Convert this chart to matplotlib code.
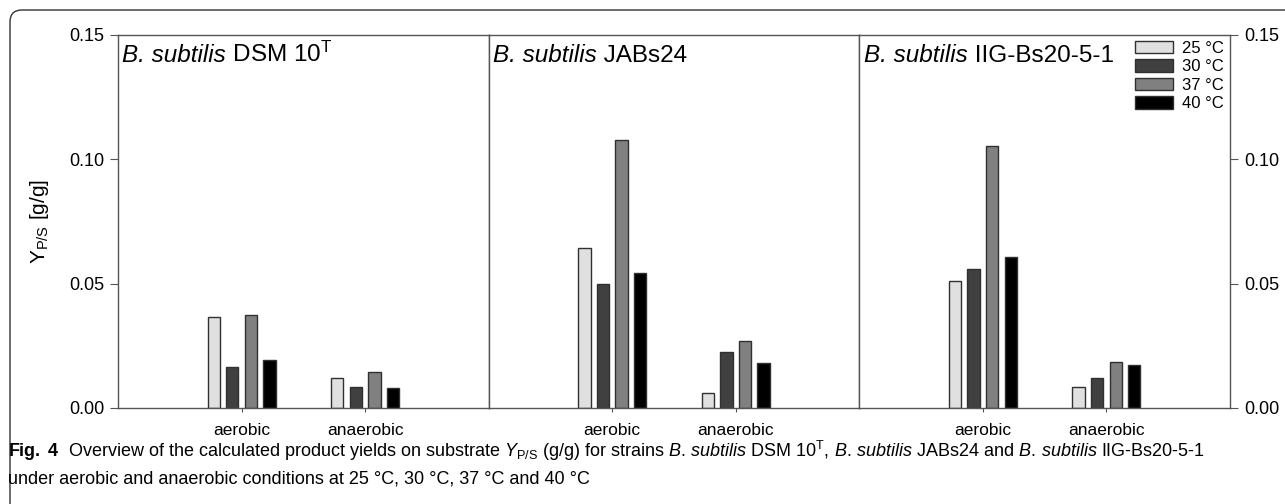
import numpy as np
import matplotlib
matplotlib.use("Agg")
import matplotlib.pyplot as plt
from matplotlib.patches import FancyBboxPatch
from matplotlib.transforms import IdentityTransform

plt.rcParams['font.family'] = ['Liberation Sans', 'DejaVu Sans']
plt.rcParams['mathtext.fontset'] = 'custom'
plt.rcParams['mathtext.rm'] = 'Liberation Sans'
plt.rcParams['mathtext.it'] = 'Liberation Sans:italic'
plt.rcParams['mathtext.bf'] = 'Liberation Sans:bold'

# data
conditions = ['aerobic', 'anaerobic']
temps = ['25 °C', '30 °C', '37 °C', '40 °C']
strains = ['DSM 10', 'JABs24', 'IIG-Bs20-5-1']
dsm10 = [[0.0365, 0.0165, 0.0372, 0.0192],
         [0.0120, 0.0083, 0.0145, 0.0080]]
jabs24 = [[0.0645, 0.0497, 0.1078, 0.0543],
          [0.0060, 0.0225, 0.0270, 0.0180]]
iig = [[0.0512, 0.0557, 0.1053, 0.0608],
       [0.0085, 0.0122, 0.0185, 0.0173]]
colors = ['#e0e0e0', '#404040', '#808080', '#000000']
yticks = [0.00, 0.05, 0.10, 0.15]

W, H = 1285, 504
fig = plt.figure(figsize=(W / 100, H / 100), dpi=100)

left, right, top, bottom = 118, 1230, 35, 408
pw = (right - left) / 3
spine_col = '#555555'

axes = []
for i, vals in enumerate([dsm10, jabs24, iig]):
    ax = fig.add_axes([(left + i * pw) / W, 1 - bottom / H, pw / W, (bottom - top) / H])
    axes.append(ax)
    x = np.arange(1, len(conditions) + 1)
    vals = np.array(vals)
    for j in range(len(temps)):
        ax.bar(x + (j - 1.5) * 0.15, vals[:, j], width=0.1, color=colors[j],
               edgecolor='#303030', linewidth=1, label=temps[j], zorder=2)
    ax.set_xlim(0, 3)
    ax.set_ylim(0, 0.15)
    ax.set_xticks(x)
    ax.set_xticklabels(conditions, fontsize=12.5)
    ax.tick_params(axis='x', length=3, pad=8, color=spine_col)
    for s in ax.spines.values():
        s.set_color(spine_col)
        s.set_linewidth(1)
    ax.set_yticks(yticks)
    ax.set_yticklabels(['%.2f' % v for v in yticks], fontsize=13)
    ax.tick_params(axis='y', length=6, color=spine_col, pad=4)
    if i == 0:
        ax.tick_params(axis='y', left=True, right=False, labelleft=True, labelright=False)
        ax.set_ylabel('$\\mathrm{Y}_{\\mathrm{P/S}}$ [g/g]', fontsize=15, labelpad=13)
    elif i == 2:
        ax.yaxis.tick_right()
        ax.tick_params(axis='y', left=False, right=True, labelleft=False, labelright=True)
    else:
        ax.tick_params(axis='y', left=False, right=False, labelleft=False, labelright=False)

    t1 = ax.text(0.012, 0.977, 'B. subtilis', style='italic', fontsize=17.5,
                 transform=ax.transAxes, va='top', ha='left')
    name = strains[i] + ('$^{\\mathrm{T}}$' if i == 0 else '')
    ax.annotate(' ' + name, xy=(1, 0), xycoords=t1, va='bottom', ha='left', fontsize=17.5)

leg = axes[2].legend(loc='upper right', bbox_to_anchor=(1.0, 1.0), frameon=False,
                     fontsize=12, handlelength=2.3, handleheight=0.78,
                     handletextpad=0.55, labelspacing=0.2, borderaxespad=0.25,
                     borderpad=0.1)

# caption
bs = '$\\mathit{B.}\\,\\mathit{subtilis}$'
cap1 = ('$\\mathbf{Fig.\\ 4}$  Overview of the calculated product yields on substrate '
        '$\\mathit{Y}_{\\mathrm{P/S}}$ (g/g) for strains ' + bs + ' DSM 10$^{\\mathrm{T}}$, '
        + bs + ' JABs24 and ' + bs + ' IIG-Bs20-5-1')
cap2 = 'under aerobic and anaerobic conditions at 25 °C, 30 °C, 37 °C and 40 °C'
fig.text(8 / W, 1 - 451 / H, cap1, fontsize=13, va='center', ha='left')
fig.text(8 / W, 1 - 479 / H, cap2, fontsize=13, va='center', ha='left')

frame = FancyBboxPatch((10, -30), 1400, H - 10 + 30,
                       boxstyle='round,pad=0,rounding_size=12',
                       transform=IdentityTransform(), fill=False,
                       edgecolor='#333333', linewidth=1, clip_on=False)
fig.patches.append(frame)

fig.savefig('out.png', dpi=100)
